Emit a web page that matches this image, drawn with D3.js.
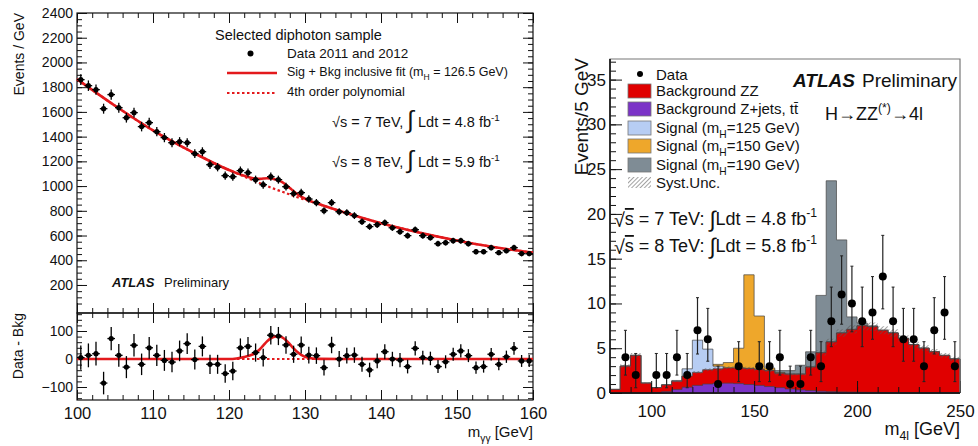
<!DOCTYPE html>
<html><head><meta charset="utf-8">
<script src="https://cdn.jsdelivr.net/npm/d3@7"></script>
<style>
body{margin:0;background:#fff}
svg{display:block}
text{font-family:"Liberation Sans",Arial,Helvetica,sans-serif;fill:#111}
</style></head>
<body><svg id="c" width="978" height="446"></svg>
<script>
// ---------------- LEFT: diphoton ----------------
const massGG = d3.range(100.5, 160, 1);
const diphotonCounts = [1861,1812,1780,1626,1740,1634,1553,1594,1481,1513,
  1440,1392,1351,1359,1351,1262,1278,1173,1153,1084,
  1076,1125,1108,1052,1011,1076,1052,995,939,947,
  895,866,801,866,793,785,761,712,672,688,
  704,663,631,599,647,599,583,534,542,558,
  558,534,469,469,502,461,477,502,453,453];
const residuals = [5,13,19,-86,73,13,-29,49,-19,40,
  13,-5,-11,29,55,-2,45,-19,-19,-52,
  -43,40,45,23,5,85,82,50,17,50,
  14,12,-31,50,0,12,14,-19,-39,-7,
  26,0,-4,-27,38,5,2,-27,-10,17,
  29,12,-31,-27,17,-19,8,38,-7,-7];
const fitMass = [100,105,110,115,120,121,122,123,123.5,124,124.5,125,125.5,126,126.5,127,127.5,128,128.5,129,129.5,130,131,132,135,140,145,150,155,160];
const fitBkg  = [1865,1650,1450,1280,1130,1103,1077,1051,1038,1025,1013,1000,988,976,965,954,943,932,921,910,900,890,870,850,790,700,625,560,505,462];
const fitSig  = [0,0,0,0,0,2,7,15,22,33,48,63,74,80,81,77,67,53,38,25,15,8,2,0.5,0,0,0,0,0,0];
const yTopLabels = [200,400,600,800,1000,1200,1400,1600,1800,2000,2200,2400];
const yBotLabels = [-100,0,100];
const xGGLabels = [100,110,120,130,140,150,160];

// ---------------- RIGHT: 4 lepton ----------------
const m4lEdges = d3.range(80, 250, 5);
const bkgZjets = [0,0,0,0,0.05,0.15,0.4,0.65,0.85,1.0,1.08,1.1,1.05,0.95,0.85,0.72,0.6,0.45,0.35,0.27,0.2,0.15,0.12,0.1,0.08,0.07,0.06,0.05,0.05,0.04,0.04,0.03,0.03,0.03];
const bkgZZ    = [0.4,3.0,4.2,1.1,0.55,0.75,0.9,1.25,1.45,1.6,1.62,1.7,1.75,1.8,1.8,1.78,1.6,1.65,1.75,2.63,4.3,5.55,6.58,7.0,7.42,7.33,6.94,6.65,6.05,5.36,4.96,4.57,4.17,3.77];
const sig125   = [0,0,0,0,0,0,0.1,0.8,3.6,2.3,0.3,0,0,0,0,0,0,0,0,0,0,0,0,0,0,0,0,0,0,0,0,0,0,0];
const sig150   = [0,0,0,0,0,0,0,0,0,0.2,0.5,0.6,2.2,10.45,5.95,0.3,0.1,0,0,0,0,0,0,0,0,0,0,0,0,0,0,0,0,0];
const sig190   = [0,0,0,0,0,0,0,0,0,0,0,0,0,0,0.1,0.2,0.3,0.4,1.0,1.7,6.4,18.0,10.4,1.4,0.3,0.1,0,0,0,0,0,0,0,0];
const systUnc  = [0.03,0.2,0.28,0.08,0.05,0.07,0.1,0.13,0.15,0.17,0.18,0.18,0.18,0.18,0.17,0.16,0.15,0.14,0.14,0.19,0.3,0.37,0.43,0.46,0.48,0.48,0.45,0.43,0.39,0.35,0.32,0.3,0.27,0.25];
const data4l   = [0,4,2,0,2,2,4,2,7,6,1,0,3,0,3,3,4,1,1,4,3,8,11,10,8,9,13,8,6,6,3,7,9,3];
const yRLabels = [0,5,10,15,20,25,30,35];
const xRLabels = [100,150,200,250];

const svg = d3.select("#c");
svg.append("rect").attr("width",978).attr("height",446).attr("fill","#fff");
const RED = "#e3191c";

function rich(g, x, y, parts, size, anchor) {
  const t = g.append("text").attr("x", x).attr("y", y).attr("font-size", size)
    .attr("text-anchor", anchor || "start");
  let shift = 0;
  parts.forEach(p => {
    const [s, kind, extra] = (typeof p === "string") ? [p, "n"] : p;
    const ts = t.append("tspan").text(s);
    let target = 0;
    if (kind === "sub") { target = size * 0.3; ts.attr("font-size", size * 0.68); }
    else if (kind === "sup") { target = -size * 0.42; ts.attr("font-size", size * 0.68); }
    else if (kind === "big") { target = size * 0.1; ts.attr("font-size", size * extra); }
    else if (kind === "bi") { ts.attr("font-weight", "bold").attr("font-style", "italic"); }
    else if (kind === "ol") { ts.attr("text-decoration", "overline"); }
    ts.attr("dy", target - shift);
    shift = target;
  });
  return t;
}
function styleAxis(g, size) {
  g.select(".domain").remove();
  g.attr("font-family", null).attr("font-size", size);
  g.selectAll(".tick line").attr("stroke", "#111");
  g.selectAll(".tick text").attr("fill", "#111");
}

// ===== LEFT PANEL =====
const xL = d3.scaleLinear().domain([100,160]).range([77,533]);
const yT = d3.scaleLinear().domain([0,2400]).range([309.7,13]);
const yB = d3.scaleLinear().domain([-100,100]).range([387,331]);
const LT = {x:77, y:13, w:456, h:300};
const LB = {x:77, y:313, w:456, h:87};
const left = svg.append("g");

const xMaj = d3.range(100,161,10), xMin = d3.range(100,161,2);
[[LT.y+LT.h, -1],[LT.y, 1],[LB.y, 1],[LB.y+LB.h, -1]].forEach(([yy, dir]) => {
  const mk = (vals, len) => {
    const ax = dir < 0 ? d3.axisBottom(xL) : d3.axisTop(xL);
    left.append("g").attr("transform", `translate(0,${yy})`)
      .call(ax.tickValues(vals).tickSize(-len).tickFormat("")).call(g => styleAxis(g, 12));
  };
  mk(xMin, 5); mk(xMaj, 10);
});
left.append("g").attr("transform", `translate(0,${LB.y+LB.h})`)
  .call(d3.axisBottom(xL).tickValues(xGGLabels).tickSize(0).tickPadding(7).tickFormat(d3.format("d")))
  .call(g => styleAxis(g, 16.5));

const yTmin = d3.range(50,2401,50);
[[LT.x, d3.axisLeft],[LT.x+LT.w, d3.axisRight]].forEach(([xx, fn]) => {
  left.append("g").attr("transform", `translate(${xx},0)`)
    .call(fn(yT).tickValues(yTmin).tickSize(-5).tickFormat("")).call(g => styleAxis(g, 12));
  left.append("g").attr("transform", `translate(${xx},0)`)
    .call(fn(yT).tickValues(d3.range(200,2401,200)).tickSize(-10).tickFormat("")).call(g => styleAxis(g, 12));
});
left.append("g").attr("transform", `translate(${LT.x},0)`)
  .call(d3.axisLeft(yT).tickValues(yTopLabels).tickSize(0).tickPadding(4).tickFormat(d3.format("d")))
  .call(g => styleAxis(g, 14));
[[LB.x, d3.axisLeft],[LB.x+LB.w, d3.axisRight]].forEach(([xx, fn]) => {
  left.append("g").attr("transform", `translate(${xx},0)`)
    .call(fn(yB).tickValues(d3.range(-140,161,20)).tickSize(-5).tickFormat("")).call(g => styleAxis(g, 12));
  left.append("g").attr("transform", `translate(${xx},0)`)
    .call(fn(yB).tickValues(yBotLabels).tickSize(-10).tickFormat("")).call(g => styleAxis(g, 12));
});
left.append("g").attr("transform", `translate(${LB.x},0)`)
  .call(d3.axisLeft(yB).tickValues(yBotLabels).tickSize(0).tickPadding(4).tickFormat(d3.format("d")))
  .call(g => styleAxis(g, 14));

left.append("rect").attr("x",LT.x).attr("y",LT.y).attr("width",LT.w).attr("height",LT.h)
  .attr("fill","none").attr("stroke","#111").attr("stroke-width",1.2);
left.append("rect").attr("x",LB.x).attr("y",LB.y).attr("width",LB.w).attr("height",LB.h)
  .attr("fill","none").attr("stroke","#111").attr("stroke-width",1.2);

const fitPts = fitMass.map((m,i) => ({m, b: fitBkg[i], s: fitSig[i]}));
const lineBkg = d3.line().x(d=>xL(d.m)).y(d=>yT(d.b)).curve(d3.curveMonotoneX);
const lineTot = d3.line().x(d=>xL(d.m)).y(d=>yT(d.b+d.s)).curve(d3.curveMonotoneX);
left.append("path").attr("d", lineBkg(fitPts)).attr("fill","none").attr("stroke",RED)
  .attr("stroke-width",2.2).attr("stroke-dasharray","2.5,2.5");
left.append("path").attr("d", lineTot(fitPts)).attr("fill","none").attr("stroke",RED).attr("stroke-width",2.6);

const dTop = left.append("g");
massGG.forEach((m,i) => {
  const v = diphotonCounts[i], e = Math.sqrt(v);
  dTop.append("line").attr("x1",xL(m-0.5)).attr("x2",xL(m+0.5)).attr("y1",yT(v)).attr("y2",yT(v)).attr("stroke","#000").attr("stroke-width",1.3);
  dTop.append("line").attr("x1",xL(m)).attr("x2",xL(m)).attr("y1",yT(v-e)).attr("y2",yT(v+e)).attr("stroke","#000").attr("stroke-width",1.3);
  dTop.append("circle").attr("cx",xL(m)).attr("cy",yT(v)).attr("r",2.6).attr("fill","#000");
});

const linePlain = d3.line().x(d=>xL(d.m)).y(d=>yB(0));
const lineSig = d3.line().x(d=>xL(d.m)).y(d=>yB(d.s)).curve(d3.curveMonotoneX);
left.append("path").attr("d", linePlain(fitPts)).attr("fill","none").attr("stroke",RED)
  .attr("stroke-width",2.2).attr("stroke-dasharray","2.5,2.5");
left.append("path").attr("d", lineSig(fitPts)).attr("fill","none").attr("stroke",RED).attr("stroke-width",2.6);
const dBot = left.append("g");
massGG.forEach((m,i) => {
  const v = residuals[i], e = Math.sqrt(diphotonCounts[i]);
  dBot.append("line").attr("x1",xL(m-0.5)).attr("x2",xL(m+0.5)).attr("y1",yB(v)).attr("y2",yB(v)).attr("stroke","#000").attr("stroke-width",1.3);
  dBot.append("line").attr("x1",xL(m)).attr("x2",xL(m)).attr("y1",yB(v-e)).attr("y2",yB(v+e)).attr("stroke","#000").attr("stroke-width",1.3);
  dBot.append("circle").attr("cx",xL(m)).attr("cy",yB(v)).attr("r",2.6).attr("fill","#000");
});

left.append("text").attr("transform","translate(24,13) rotate(-90)").attr("text-anchor","end")
  .attr("font-size",14).text("Events / GeV");
left.append("text").attr("transform","translate(23,313) rotate(-90)").attr("text-anchor","end")
  .attr("font-size",14).text("Data - Bkg");
rich(left, 533, 437, ["m",["γγ","sub"]," [GeV]"], 15, "end");

left.append("text").attr("x",215).attr("y",40).attr("font-size",14.5).text("Selected diphoton sample");
left.append("circle").attr("cx",250.5).attr("cy",53.5).attr("r",3).attr("fill","#000");
left.append("text").attr("x",287).attr("y",58).attr("font-size",13.5).text("Data 2011 and 2012");
left.append("line").attr("x1",227).attr("x2",277).attr("y1",73).attr("y2",73).attr("stroke",RED).attr("stroke-width",2.6);
rich(left, 287, 76, ["Sig + Bkg inclusive fit (m",["H","sub"]," = 126.5 GeV)"], 12.5);
left.append("line").attr("x1",227).attr("x2",277).attr("y1",93).attr("y2",93).attr("stroke",RED)
  .attr("stroke-width",2.2).attr("stroke-dasharray","2.5,2.5");
left.append("text").attr("x",287).attr("y",96).attr("font-size",13).text("4th order polynomial");
rich(left, 332, 127, ["√s = 7 TeV, ",["∫","big",1.7]," Ldt = 4.8 fb",["-1","sup"]], 14.5);
rich(left, 332, 167, ["√s = 8 TeV, ",["∫","big",1.7]," Ldt = 5.9 fb",["-1","sup"]], 14.5);
left.append("text").attr("x",112).attr("y",287).attr("font-size",13)
  .attr("font-weight","bold").attr("font-style","italic").text("ATLAS");
left.append("text").attr("x",164).attr("y",287).attr("font-size",13).text("Preliminary");

// ===== RIGHT PANEL =====
const xR = d3.scaleLinear().domain([80,250]).range([610,960]);
const yR = d3.scaleLinear().domain([0,37.3]).range([393,59]);
const right = svg.append("g");
const defs = svg.append("defs");
const pat = defs.append("pattern").attr("id","hatch").attr("patternUnits","userSpaceOnUse")
  .attr("width",3).attr("height",3).attr("patternTransform","rotate(45)");
pat.append("line").attr("x1",0).attr("y1",0).attr("x2",0).attr("y2",3).attr("stroke","#555").attr("stroke-width",1.1);

const bins = m4lEdges.map((e,i) => ({
  e, zj: bkgZjets[i], bkg: bkgZjets[i] + bkgZZ[i],
  s125: sig125[i], s150: sig150[i], s190: sig190[i], sys: systUnc[i], n: data4l[i]
}));
const stepPts = acc => {
  const pts = bins.map(b => ({x: b.e, y: acc(b)}));
  pts.push({x: 250, y: acc(bins[bins.length-1])});
  return pts;
};
const area = d3.area().x(d=>xR(d.x)).y0(yR(0)).y1(d=>yR(d.y)).curve(d3.curveStepAfter);
const band = d3.area().x(d=>xR(d.x)).y0(d=>yR(d.lo)).y1(d=>yR(d.hi)).curve(d3.curveStepAfter);
const layers = [
  {acc: b => b.bkg + b.s190, fill: "#7f8c95"},
  {acc: b => b.bkg + b.s150, fill: "#eea72b"},
  {acc: b => b.bkg + b.s125, fill: "#b7cdf3"},
  {acc: b => b.bkg, fill: "#e00000"},
  {acc: b => b.zj, fill: "#7b33c7"}
];
layers.forEach(L => {
  right.append("path").attr("d", area(stepPts(L.acc))).attr("fill", L.fill)
    .attr("stroke", "#444").attr("stroke-width", 0.7);
});
const bandPts = bins.map(b => ({x: b.e, lo: b.bkg - b.sys, hi: b.bkg + b.sys}));
bandPts.push({x:250, lo: bandPts[bandPts.length-1].lo, hi: bandPts[bandPts.length-1].hi});
right.append("path").attr("d", band(bandPts)).attr("fill","url(#hatch)").attr("stroke","none");

right.append("g").attr("transform","translate(610,0)")
  .call(d3.axisRight(yR).tickValues(d3.range(0,38,1)).tickSize(6).tickFormat("")).call(g=>styleAxis(g,12));
right.append("g").attr("transform","translate(610,0)")
  .call(d3.axisRight(yR).tickValues(yRLabels).tickSize(12).tickFormat("")).call(g=>styleAxis(g,12));
right.append("g").attr("transform","translate(610,0)")
  .call(d3.axisLeft(yR).tickValues(yRLabels).tickSize(0).tickPadding(4).tickFormat(d3.format("d"))).call(g=>styleAxis(g,17));
right.append("g").attr("transform","translate(0,393)")
  .call(d3.axisTop(xR).tickValues(d3.range(80,251,10)).tickSize(6).tickFormat("")).call(g=>styleAxis(g,12));
right.append("g").attr("transform","translate(0,393)")
  .call(d3.axisTop(xR).tickValues(xRLabels).tickSize(12).tickFormat("")).call(g=>styleAxis(g,12));
right.append("g").attr("transform","translate(0,393)")
  .call(d3.axisBottom(xR).tickValues(xRLabels).tickSize(0).tickPadding(12).tickFormat(d3.format("d"))).call(g=>styleAxis(g,17));
right.append("path").attr("d","M610,393V59H960V393").attr("fill","none").attr("stroke","#777").attr("stroke-width",1.2);
right.append("line").attr("x1",610).attr("x2",610).attr("y1",59).attr("y2",393).attr("stroke","#111").attr("stroke-width",1.6);
right.append("line").attr("x1",610).attr("x2",960).attr("y1",393).attr("y2",393).attr("stroke","#111").attr("stroke-width",1.6);

const dR = right.append("g");
bins.forEach(b => {
  if (b.n <= 0) return;
  const cx = xR(b.e + 2.5);
  const lo = b.n - Math.sqrt(b.n), hi = b.n + Math.sqrt(b.n) + 1;
  dR.append("line").attr("x1",cx).attr("x2",cx).attr("y1",yR(lo)).attr("y2",yR(hi)).attr("stroke","#222").attr("stroke-width",1.2);
  [lo,hi].forEach(v => dR.append("line").attr("x1",cx-1.5).attr("x2",cx+1.5).attr("y1",yR(v)).attr("y2",yR(v)).attr("stroke","#222").attr("stroke-width",1));
  dR.append("circle").attr("cx",cx).attr("cy",yR(b.n)).attr("r",4).attr("fill","#000");
});

right.append("text").attr("transform","translate(588,58) rotate(-90)").attr("text-anchor","end")
  .attr("font-size",19).text("Events/5 GeV");
rich(right, 960, 435, ["m",["4l","sub"]," [GeV]"], 18, "end");

const legItems = [
  {y: 96,  fill: "#e00000", parts: ["Background ZZ"]},
  {y: 114, fill: "#7b33c7", parts: ["Background Z+jets, t","t̄"]},
  {y: 133, fill: "#b7cdf3", parts: ["Signal (m",["H","sub"],"=125 GeV)"]},
  {y: 151, fill: "#eea72b", parts: ["Signal (m",["H","sub"],"=150 GeV)"]},
  {y: 170, fill: "#7f8c95", parts: ["Signal (m",["H","sub"],"=190 GeV)"]}
];
right.append("circle").attr("cx",640).attr("cy",74).attr("r",3).attr("fill","#000");
right.append("text").attr("x",656).attr("y",80).attr("font-size",15).text("Data");
legItems.forEach(it => {
  right.append("rect").attr("x",628).attr("y",it.y-12).attr("width",23).attr("height",14)
    .attr("fill",it.fill).attr("stroke","#777").attr("stroke-width",0.8);
  rich(right, 656, it.y, it.parts, 15);
});
right.append("rect").attr("x",628).attr("y",177).attr("width",23).attr("height",11).attr("fill","url(#hatch)");
right.append("text").attr("x",656).attr("y",188).attr("font-size",15).text("Syst.Unc.");

right.append("text").attr("x",793).attr("y",87).attr("font-size",19)
  .attr("font-weight","bold").attr("font-style","italic").text("ATLAS");
right.append("text").attr("x",862).attr("y",87).attr("font-size",19).text("Preliminary");
rich(right, 825, 120, ["H→ZZ",["(*)","sup"],"→4l"], 18);
rich(right, 614, 225, [["√","big",1.1],["s","ol"]," = 7 TeV: ",["∫","big",1.25],"Ldt = 4.8 fb",["-1","sup"]], 18);
rich(right, 614, 252, [["√","big",1.1],["s","ol"]," = 8 TeV: ",["∫","big",1.25],"Ldt = 5.8 fb",["-1","sup"]], 18);
</script></body></html>
